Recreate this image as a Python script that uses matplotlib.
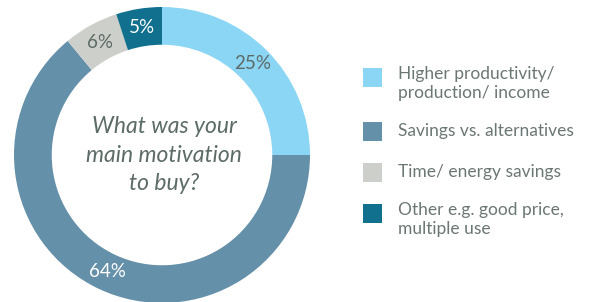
import matplotlib.pyplot as plt
from matplotlib.patches import Rectangle

# data
labels = ["Higher productivity/\nproduction/ income", "Savings vs. alternatives",
          "Time/ energy savings", "Other e.g. good price,\nmultiple use"]
values = [25, 64, 6, 5]
colors = ["#8bd5f5", "#6590aa", "#cdcfcb", "#10708e"]
pct_colors = ["#5c6b67", "white", "#5c6b67", "white"]
question = "What was your\nmain motivation\nto buy?"

plt.rcParams['font.family'] = ['Lato', 'DejaVu Sans']

W, H = 595, 302
fig = plt.figure(figsize=(W / 100, H / 100), dpi=100)
ax = fig.add_axes([0, 0, 1, 1])

# donut, starting at 12 o'clock, going clockwise
cx, cy, r = 162, H - 155, 148
wedges, texts, autotexts = ax.pie(
    values, colors=colors, startangle=90, counterclock=False,
    center=(cx, cy), radius=r, autopct='%d%%', pctdistance=0.87,
    wedgeprops=dict(width=r * 0.255, linewidth=0), frame=True,
    textprops=dict(fontsize=13.5))
ax.set_xlim(0, W)
ax.set_ylim(0, H)
ax.set_aspect('equal')
ax.axis('off')
for t, c in zip(autotexts, pct_colors):
    t.set_color(c)

ax.text(cx + 2, cy, question, ha='center', va='center', fontsize=16.5,
        style='italic', color="#5c6b67", linespacing=1.45)

# legend
ys = [H - 77, H - 131, H - 172, H - 213]
for y, c, lab in zip(ys, colors, labels):
    ax.add_patch(Rectangle((363, y - 9.5), 19, 19, color=c, lw=0))
    if "\n" in lab:
        ax.text(398, y + 11, lab, ha='left', va='top', fontsize=12.5,
                color="#6b7774", linespacing=1.2)
    else:
        ax.text(398, y, lab, ha='left', va='center', fontsize=12.5,
                color="#6b7774")

fig.savefig("out.png", dpi=100)
